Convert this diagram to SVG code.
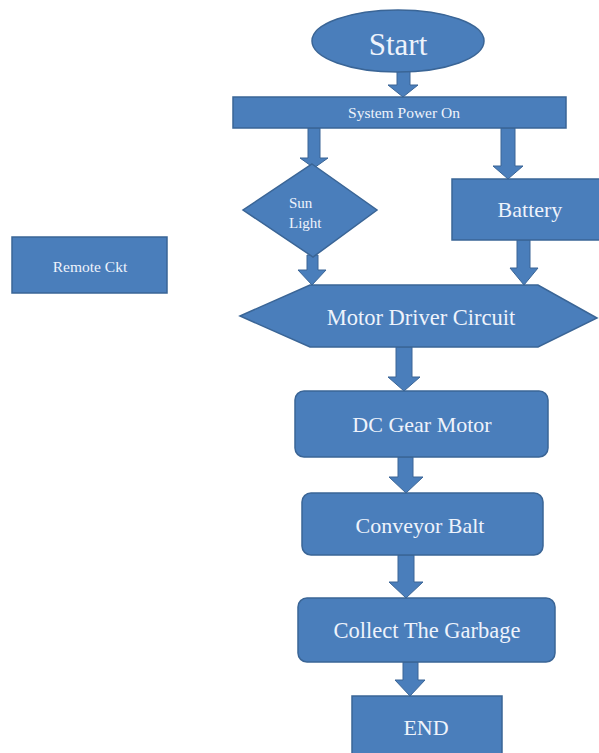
<svg xmlns="http://www.w3.org/2000/svg" width="599" height="753" viewBox="0 0 599 753">
<style>
.n{fill:#4a7ebb;stroke:#3a6596;stroke-width:1.5}
.a{fill:#4a7ebb;stroke:#3a6596;stroke-width:1}
text{font-family:'Liberation Serif','DejaVu Serif',serif;fill:#eef3fb;text-anchor:middle}
</style>
<rect width="599" height="753" fill="#ffffff"/>
<g id="connectors">
<polygon class="a" points="397,70 410,70 410,85 418,85 403,97 388,85 397,85"/>
<polygon class="a" points="308,128 320,128 320,158 328,158 314,168 300,158 308,158"/>
<polygon class="a" points="501,128 515,128 515,166 523,166 508,179 493,166 501,166"/>
<polygon class="a" points="307,255 318,255 318,270 326,270 312,285 298,270 307,270"/>
<polygon class="a" points="517,240 530,240 530,268 538,268 524,285 510,268 517,268"/>
<polygon class="a" points="396,347 412,347 412,377 420,377 404,391 388,377 396,377"/>
<polygon class="a" points="398,457 413,457 413,477 423,477 406,493 389,477 398,477"/>
<polygon class="a" points="398,555 414,555 414,582 423,582 406,598 389,582 398,582"/>
<polygon class="a" points="403,662 418,662 418,680 425,680 410,696 395,680 403,680"/>
</g>
<g id="start">
<ellipse class="n" cx="398" cy="41" rx="86" ry="31"/>
<text x="398" y="55" font-size="31">Start</text>
</g>
<g id="power">
<rect class="n" x="233" y="97" width="333" height="31"/>
<text x="404" y="118" font-size="15.5">System Power On</text>
</g>
<g id="sunlight">
<polygon class="n" points="312,164 377,210 313,257 243,210"/>
<text x="289" y="208" font-size="15" style="text-anchor:start">Sun</text>
<text x="289" y="228" font-size="15" style="text-anchor:start">Light</text>
</g>
<g id="battery">
<rect class="n" x="452" y="179" width="160" height="61"/>
<text x="530" y="217" font-size="22">Battery</text>
</g>
<g id="remote">
<rect class="n" x="12" y="237" width="155" height="56"/>
<text x="90" y="272" font-size="15.5">Remote Ckt</text>
</g>
<g id="motordriver">
<polygon class="n" points="240,316 310,285 538,285 597,318 538,347 310,347"/>
<text x="421" y="325" font-size="22.5">Motor Driver Circuit</text>
</g>
<g id="dcmotor">
<rect class="n" x="295" y="391" width="253" height="66" rx="9"/>
<text x="422" y="432" font-size="22">DC Gear Motor</text>
</g>
<g id="conveyor">
<rect class="n" x="302" y="493" width="241" height="62" rx="9"/>
<text x="420" y="533" font-size="22">Conveyor Balt</text>
</g>
<g id="collect">
<rect class="n" x="298" y="598" width="257" height="64" rx="9"/>
<text x="427" y="638" font-size="22.5">Collect The Garbage</text>
</g>
<g id="end">
<rect class="n" x="352" y="696" width="150" height="62"/>
<text x="426" y="735" font-size="22">END</text>
</g>
</svg>
